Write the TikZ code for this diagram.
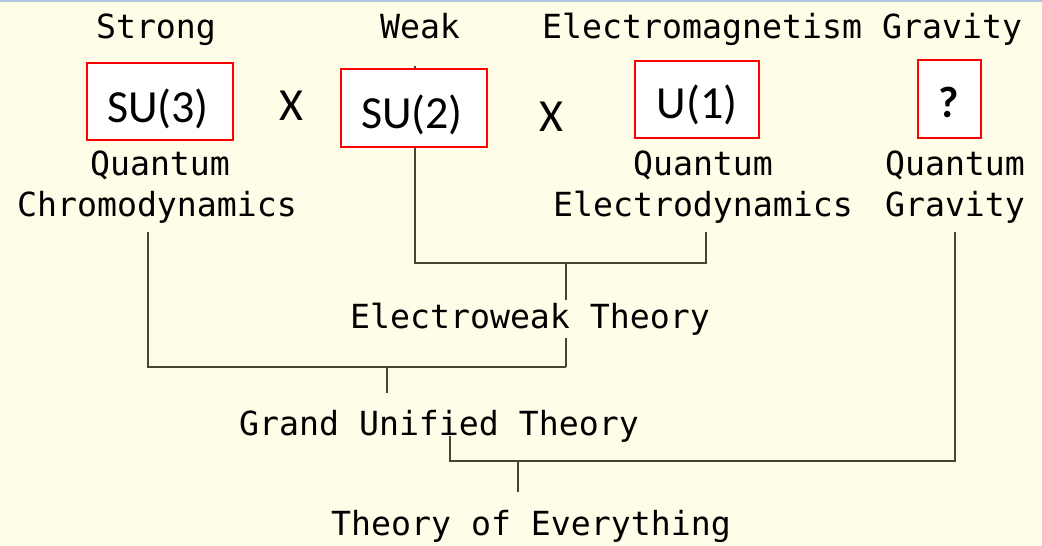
\documentclass[tikz,border=0pt]{standalone}
\usepackage{fontspec}
\usetikzlibrary{backgrounds}
\newfontfamily\monofont{DejaVu Sans Mono}
\newfontfamily\calfont{Carlito}
\definecolor{bgyel}{RGB}{255,253,231}
\definecolor{lncol}{RGB}{70,70,55}
\definecolor{topblue}{RGB}{175,200,225}
\begin{document}
\begin{tikzpicture}[x=1pt,y=-1pt,
  lbl/.style={font=\monofont\fontsize{33.2}{40}\selectfont, inner sep=0pt, anchor=base, text=black},
  grp/.style={draw=red, line width=1.6pt, fill=white, inner sep=0pt},
  sym/.style={font=\calfont\fontsize{46}{52}\selectfont, inner sep=0pt, anchor=base, text=black},
  times/.style={font=\calfont\fontsize{46}{52}\selectfont, inner sep=0pt, anchor=base, text=black},
  conn/.style={draw=lncol, line width=1.3pt}]
\useasboundingbox (0,0) rectangle (1042,546);
\begin{scope}[on background layer]
  \fill[bgyel] (0,0) rectangle (1042,546);
  \fill[topblue] (0,0) rectangle (1042,2);
\end{scope}

% group boxes
\node[grp, minimum width=146pt, minimum height=77pt] (b3) at (160,101.5) {};
\node[grp, minimum width=146pt, minimum height=78pt] (b2) at (414,108) {};
\node[grp, minimum width=124pt, minimum height=77pt] (b1) at (697,99.5) {};
\node[grp, minimum width=63pt, minimum height=78pt] (bq) at (949.5,99) {};

\node[sym] (t3) at (158,122) {SU(3)};
\node[sym] (t2) at (412,128) {SU(2)};
\node[sym] (t1) at (697,118) {U(1)};
\node[sym, font=\calfont\bfseries\fontsize{44}{50}\selectfont] (tq) at (949,117) {?};
\node[times] (x1) at (291,120) {X};
\node[times] (x2) at (551,131) {X};

% force labels
\node[lbl] (strong) at (156,38) {Strong};
\node[lbl] (weak) at (420,38) {Weak};
\node[lbl, anchor=base west] (em) at (542,38) {Electromagnetism};
\node[lbl, anchor=base west] (grav) at (882,38) {Gravity};

% theories
\node[lbl] (qcda) at (160,175) {Quantum};
\node[lbl] (qcdb) at (157,216) {Chromodynamics};
\node[lbl] (qeda) at (703,175) {Quantum};
\node[lbl] (qedb) at (703,216) {Electrodynamics};
\node[lbl] (qga) at (955,175) {Quantum};
\node[lbl] (qgb) at (955,216) {Gravity};

\node[lbl, fill=bgyel, inner sep=3pt] (ew) at (530,328) {Electroweak Theory};
\node[lbl] (gut) at (439,435) {Grand Unified Theory};
\node[lbl] (toe) at (531,535) {Theory of Everything};

% connector end points
\coordinate (wtop) at (415,66);
\coordinate (ewL) at (415,263);
\coordinate (ewR) at (706,263);
\coordinate (qedfoot) at (706,232);
\coordinate (ewmid) at (566,263);
\coordinate (qcdfoot) at (148,232);
\coordinate (gutL) at (148,367);
\coordinate (gutR) at (566,367);
\coordinate (gutmid) at (387,367);
\coordinate (gutstub) at (387,393);
\coordinate (toeL) at (450,436);
\coordinate (toeLb) at (450,461);
\coordinate (toeR) at (955,461);
\coordinate (qgfoot) at (955,232);
\coordinate (toemid) at (518,461);
\coordinate (toestub) at (518,492);

\begin{scope}[on background layer]
  \draw[conn] (wtop) -- (ewL) -- (ewR) -- (qedfoot);
  \draw[conn] (qcdfoot) -- (gutL) -- (gutR);
  \draw[conn] (ewmid) -- (gutR);
  \draw[conn] (gutmid) -- (gutstub);
  \draw[conn] (toeL) -- (toeLb) -- (toeR) -- (qgfoot);
  \draw[conn] (toemid) -- (toestub);
\end{scope}
\end{tikzpicture}
\end{document}
